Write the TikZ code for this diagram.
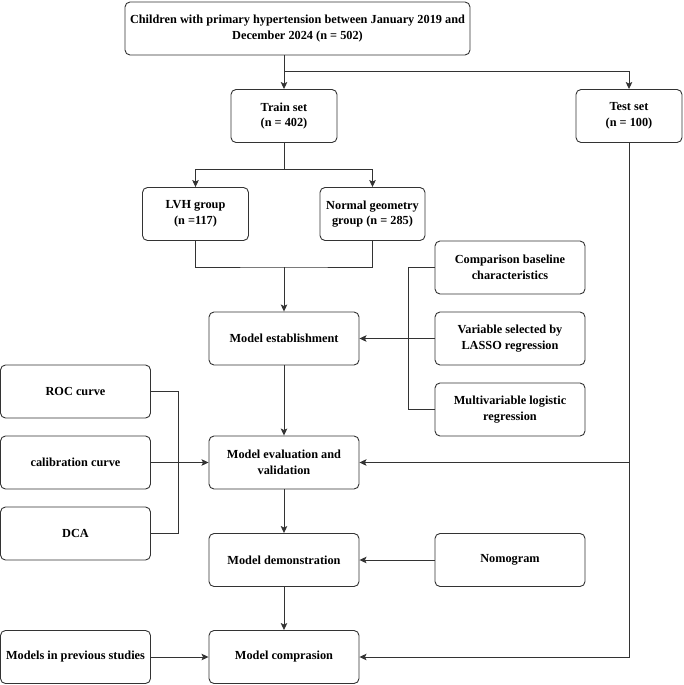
\documentclass[tikz,border=0pt]{standalone}
\usepackage{fontspec}
\setmainfont{Liberation Serif}
\usetikzlibrary{arrows.meta}
\definecolor{ln}{HTML}{333333}
\begin{document}
\begin{tikzpicture}[x=1pt,y=-1pt,
  box/.style={draw=ln,line width=0.9pt,rounded corners=5pt,align=center,
    inner sep=0pt,font=\bfseries\fontsize{12.3}{15.5}\selectfont,text=black,
    minimum height=53pt},
  wide/.style={box,minimum width=150pt},
  narrow/.style={box,minimum width=106pt},
  conn/.style={draw=ln,line width=0.9pt},
  arr/.style={conn,-{Stealth[length=7pt,width=6.5pt,inset=1.5pt]}}]
\useasboundingbox (0,0) rectangle (683,685);
\node[box,minimum width=345pt] (top) at (297.5,28.5) {Children with primary hypertension between January 2019 and\\December 2024 (n = 502)};
\node[narrow] (train) at (284,116) {Train set\\(n = 402)};
\node[narrow] (test) at (629,116) {Test set\\(n = 100)};
\node[narrow] (lvh) at (195.5,214) {LVH group\\(n =117)};
\node[narrow,minimum width=105pt] (normal) at (372.5,214) {Normal geometry\\group (n = 285)};
\node[wide] (est) at (284,338.5) {Model establishment};
\node[wide] (comp) at (510,267.5) {Comparison baseline\\characteristics};
\node[wide] (var) at (510,338.5) {Variable selected by\\LASSO regression};
\node[wide] (multi) at (510,409.5) {Multivariable logistic\\regression};
\node[wide] (roc) at (75.5,391.5) {ROC curve};
\node[wide] (calib) at (75.5,462.5) {calibration curve};
\node[wide] (dca) at (75.5,533.5) {DCA};
\node[wide] (eval) at (284,462.5) {Model evaluation and\\validation};
\node[wide] (demo) at (284,560) {Model demonstration};
\node[wide] (nomo) at (510,560) {Nomogram};
\node[wide] (cmp) at (284,657) {Model comprasion};
\node[wide] (prev) at (75.5,657) {Models in previous studies};
\coordinate (br) at (284,71);
\coordinate (j1) at (284,169);
\coordinate (j2) at (284,267);
\coordinate (bx) at (408,0);
\coordinate (lx) at (178,0);
\draw[arr] (train.north |- top.south) -- (train.north);
\draw[arr] (br) -| (test.north);
\draw[conn] (train.south) -- (j1);
\draw[arr] (j1) -| (lvh.north);
\draw[arr] (j1) -| (normal.north);
\draw[conn] (lvh.south) |- (j2) -| (normal.south);
\draw[arr] (j2) -- (est.north);
\draw[conn] (comp.west) -- (comp.west -| bx) -- (multi.west -| bx) -- (multi.west);
\draw[arr] (var.west) -- (est.east);
\draw[conn] (roc.east) -- (roc.east -| lx) -- (dca.east -| lx) -- (dca.east);
\draw[arr] (calib.east) -- (eval.west);
\draw[arr] (est.south) -- (eval.north);
\draw[arr] (eval.south) -- (demo.north);
\draw[arr] (demo.south) -- (cmp.north);
\draw[arr] (nomo.west) -- (demo.east);
\draw[arr] (prev.east) -- (cmp.east -| prev.east) -- (cmp.west);
\draw[arr] (test.south) |- (cmp.east);
\draw[arr] (test.south |- eval.east) -- (eval.east);
\end{tikzpicture}
\end{document}
